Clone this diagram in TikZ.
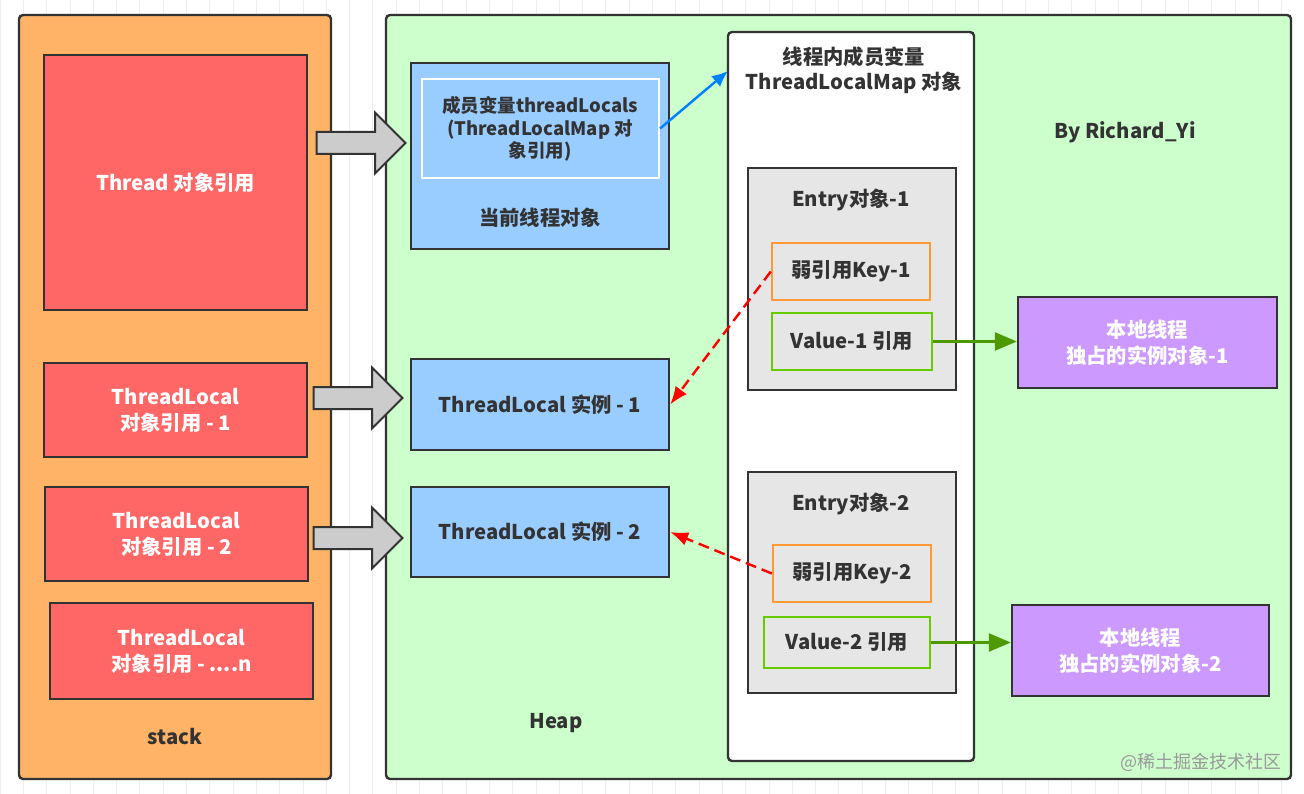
\documentclass[tikz,border=0pt]{standalone}
\usepackage{fontspec}
\setmainfont{Noto Sans CJK SC}
\usetikzlibrary{arrows.meta,shapes.arrows,calc}
\definecolor{dk}{HTML}{333333}
\definecolor{stackc}{HTML}{FFB366}
\definecolor{redc}{HTML}{FF6666}
\definecolor{heapc}{HTML}{CCFFCC}
\definecolor{bluec}{HTML}{99CCFF}
\definecolor{grayc}{HTML}{E6E6E6}
\definecolor{keyc}{HTML}{FF9933}
\definecolor{valc}{HTML}{66CC00}
\definecolor{purc}{HTML}{CC99FF}
\definecolor{arrg}{HTML}{4D9900}
\definecolor{arrb}{HTML}{007FFF}
\definecolor{arrr}{HTML}{FF0000}
\definecolor{gridc}{HTML}{EEEEEE}
\definecolor{blkc}{HTML}{CCCCCC}
\begin{document}
\begin{tikzpicture}[x=1pt,y=-1pt,
  txt/.style={font=\fontsize{20.3}{26}\selectfont\bfseries, text=dk, align=center, inner sep=0pt},
  wtxt/.style={txt, text=white},
  outer/.style={draw=dk, line width=2.4pt, rounded corners=4pt, inner sep=0pt},
  plain/.style={draw=dk, line width=2.4pt, inner sep=0pt},
  redbox/.style={plain, fill=redc, wtxt},
  bluebox/.style={plain, fill=bluec, txt},
  entrybox/.style={plain, fill=grayc},
  keybox/.style={draw=keyc, line width=2.4pt, fill=grayc, txt},
  valbox/.style={draw=valc, line width=2.4pt, fill=grayc, txt},
  purbox/.style={plain, fill=purc, wtxt},
  blk/.style={single arrow, draw=dk, line width=2pt, fill=blkc, inner xsep=0pt, inner ysep=10pt, single arrow head extend=19.5pt, single arrow tip angle=90, minimum height=89pt},
  weak/.style={draw=arrr, line width=2.4pt, dash pattern=on 11pt off 6pt, -{Latex[length=18pt,width=14pt]}},
  strong/.style={draw=arrg, line width=2.4pt, -{Triangle[length=22pt,width=18pt]}},
  bluearr/.style={draw=arrb, line width=2.4pt, -{Latex[length=16pt,width=14pt]}}
]
\useasboundingbox (0,0) rectangle (1304,794);
\fill[white] (0,0) rectangle (1304,794);
\draw[gridc, line width=0.8pt, step=23.3] (0,0) grid (1304,794);

% stack
\node[outer, fill=stackc, minimum width=312pt, minimum height=764pt] (stack) at (175,397) {};
\node[txt] (stacklbl) at (175,737) {stack};
\node[redbox, minimum width=263pt, minimum height=255pt] (thread) at (175.5,182.5) {Thread 对象引用};
\node[redbox, minimum width=263pt, minimum height=94pt] (tls1) at (175.5,410) {ThreadLocal\\对象引用 - 1};
\node[redbox, minimum width=263pt, minimum height=94pt] (tls2) at (176.5,534) {ThreadLocal\\对象引用 - 2};
\node[redbox, minimum width=263pt, minimum height=96pt] (tlsn) at (181.5,651) {ThreadLocal\\对象引用 - ....n};

% heap
\node[outer, fill=heapc, minimum width=905pt, minimum height=764pt] (heap) at (838.5,397) {};
\node[txt] (heaplbl) at (556,723) {Heap};
\node[txt] (author) at (1125,132) {By Richard\_Yi};

\node[bluebox, minimum width=258pt, minimum height=186pt] (cur) at (540,156) {};
\node[draw=white, line width=2.2pt, fill=bluec, minimum width=237pt, minimum height=99pt, inner sep=0pt] (inner) at (540.5,128.5) {};
\node[txt, font=\fontsize{18.5}{22.5}\selectfont\bfseries] (innertxt) at (540,129) {成员变量threadLocals\\(ThreadLocalMap 对\\象引用)};
\node[txt] (curlbl) at (540,218) {当前线程对象};

\node[bluebox, minimum width=258pt, minimum height=91pt] (tl1) at (540,404.5) {ThreadLocal 实例 - 1};
\node[bluebox, minimum width=258pt, minimum height=90pt] (tl2) at (540,532) {ThreadLocal 实例 - 2};

% map
\node[outer, fill=white, minimum width=246pt, minimum height=729pt] (map) at (851,396.5) {};
\node[txt, font=\fontsize{20.3}{25}\selectfont\bfseries] (maplbl) at (854,70) {线程内成员变量\\ThreadLocalMap 对象};
\coordinate (mapin) at (728,71);

\node[entrybox, minimum width=208pt, minimum height=222pt] (entry1) at (852,279) {};
\node[txt] (e1lbl) at (851,200) {Entry对象-1};
\node[keybox, minimum width=158pt, minimum height=57pt] (key1) at (851,271.5) {弱引用Key-1};
\node[valbox, minimum width=160pt, minimum height=57pt] (val1) at (852,341.5) {Value-1 引用};

\node[entrybox, minimum width=208pt, minimum height=221pt] (entry2) at (852,582.5) {};
\node[txt] (e2lbl) at (851,504) {Entry对象-2};
\node[keybox, minimum width=158pt, minimum height=57pt] (key2) at (852,573.5) {弱引用Key-2};
\node[valbox, minimum width=166pt, minimum height=51pt] (val2) at (847,642.5) {Value-2 引用};

\node[purbox, minimum width=259pt, minimum height=91pt] (pur1) at (1147.5,342.5) {本地线程\\独占的实例对象-1};
\node[purbox, minimum width=257pt, minimum height=91pt] (pur2) at (1140.5,650.5) {本地线程\\独占的实例对象-2};

% block arrows
\node[blk] (b1) at (355.5,143) {};
\node[blk] (b2) at (352.5,398) {};
\node[blk] (b3) at (352.5,538) {};

% connectors
\draw[bluearr] (inner.east) -- (mapin);
\draw[weak] (key1.west) -- (tl1.east);
\draw[weak] (key2.west) -- (tl2.east);
\draw[strong] (val1.east) -- (val1.east -| pur1.west);
\draw[strong] (val2.east) -- (val2.east -| pur2.west);

\node[font=\fontsize{18}{20}\selectfont, text=gray!80, inner sep=0pt] (wm) at (1201,762) {@稀土掘金技术社区};
\end{tikzpicture}
\end{document}
